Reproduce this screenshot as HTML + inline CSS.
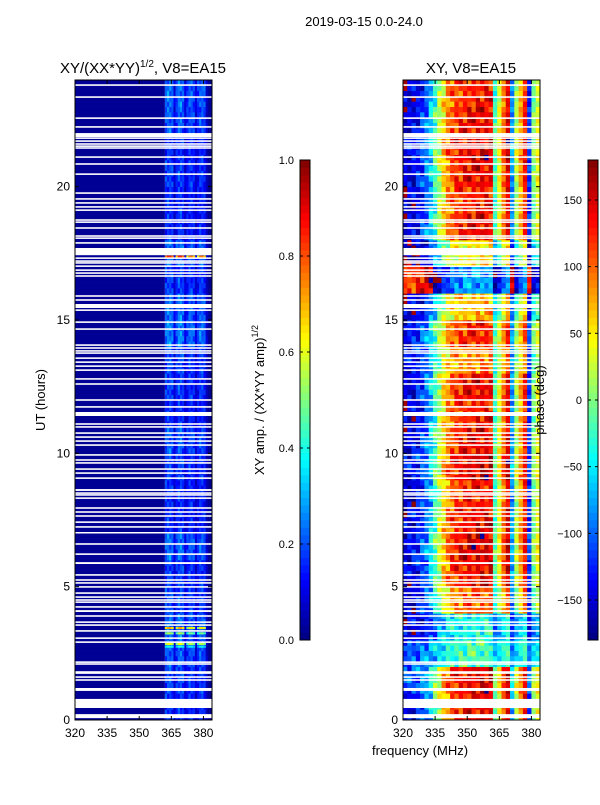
<!DOCTYPE html>
<html><head><meta charset="utf-8">
<style>
body{margin:0;background:#fff;}
svg text{font-family:"Liberation Sans","DejaVu Sans",sans-serif;fill:#000;}
</style></head>
<body>
<svg id="fig" width="600" height="800" viewBox="0 0 600 800" xmlns="http://www.w3.org/2000/svg">
<rect width="600" height="800" fill="#fff"/>
<text x="364" y="26" font-size="13" text-anchor="middle">2019-03-15 0.0-24.0</text>
<text x="143" y="73" font-size="15" text-anchor="middle">XY/(XX*YY)<tspan font-size="10" dy="-6">1/2</tspan><tspan dy="6">, V8=EA15</tspan></text>
<text x="471" y="73" font-size="15" text-anchor="middle">XY, V8=EA15</text>
<g id="left"></g>
<g id="right"></g>
<g id="axes"></g>
<text transform="translate(45,400) rotate(-90)" font-size="13" text-anchor="middle">UT (hours)</text>
<text transform="translate(264,400) rotate(-90)" font-size="13" text-anchor="middle">XY amp. / (XX*YY amp)<tspan font-size="9" dy="-6">1/2</tspan></text>
<text transform="translate(544,400) rotate(-90)" font-size="13" text-anchor="middle">phase (deg)</text>
<text x="420" y="755" font-size="13" text-anchor="middle">frequency (MHz)</text>
</svg>
<script>
// ---- data ----
const freqTicks=[320,335,350,365,380];
const hourTicks=[0,5,10,15,20];
const ampTicks=[0.0,0.2,0.4,0.6,0.8,1.0];
const phaseTicks=[-150,-100,-50,0,50,100,150];
// gaps (hours) with no data
const gapStart=[23.78,23.33,22.54,22.21,21.86,21.79,21.68,21.57,21.49,21.42,21.08,20.82,20.44,19.73,19.51,19.36,19.21,19.09,18.72,18.64,18.42,18.12,18.04,17.86,17.43,17.29,17.18,17.11,16.99,16.84,16.73,16.62,15.87,15.72,15.45,15.34,14.89,14.63,14.03,13.92,13.81,13.73,13.54,13.39,13.24,13.09,12.76,12.57,11.97,11.71,11.4,11.07,10.96,10.73,10.58,10.43,10.28,9.91,9.72,9.61,9.38,9.23,9.04,8.59,8.48,8.41,8.29,7.92,7.77,7.62,7.39,7.21,7.0,6.57,6.19,5.85,5.41,5.22,5.11,4.96,4.73,4.58,4.47,4.39,4.21,4.05,3.87,3.64,3.53,3.31,3.04,2.89,2.14,2.07,1.77,1.73,1.58,1.47,1.09,0.45,0.07];
const gapEnd=[23.84,23.39,22.6,22.27,22.01,21.85,21.74,21.63,21.55,21.48,21.14,20.88,20.5,19.79,19.57,19.42,19.27,19.15,18.78,18.7,18.48,18.18,18.1,17.92,17.7,17.35,17.24,17.17,17.05,16.9,16.79,16.68,15.93,15.78,15.6,15.4,14.95,14.69,14.09,13.98,13.87,13.79,13.6,13.45,13.3,13.15,12.82,12.63,12.03,11.77,11.55,11.13,11.02,10.79,10.64,10.49,10.34,9.97,9.78,9.67,9.44,9.29,9.1,8.66,8.54,8.47,8.35,7.98,7.83,7.68,7.45,7.27,7.05,6.63,6.25,5.92,5.47,5.28,5.17,5.02,4.79,4.64,4.53,4.45,4.27,4.12,3.93,3.7,3.59,3.37,3.1,2.95,2.2,2.13,1.83,1.79,1.64,1.53,1.2,0.79,0.22];
// amplitude: strip profile for 362-384 MHz (1 MHz columns) and per-hour level
const stripProfile=[0.9,1.0,1.0,0.9,0.4,0.8,1.0,1.0,0.9,0.4,0.7,0.9,0.9,0.8,0.4,0.7,0.9,0.9,0.8,0.3,0.1,0.1];
const ampHour=[0.18,0.2,0.22,0.24,0.2,0.19,0.24,0.17,0.17,0.19,0.22,0.17,0.19,0.2,0.26,0.24,0.19,0.24,0.17,0.17,0.19,0.17,0.22,0.24];
const baseAmp=0.02;
const hotHour=[17.38,3.45,3.25,2.85,2.75];
const hotAmp=[0.85,0.72,0.55,0.62,0.4];
// phase (deg) per 2 MHz column, 320..384
const colPhase=[-150,-145,-140,-130,-115,-95,-60,-20,20,60,90,110,120,125,130,135,135,140,140,140,140,-20,40,100,150,-80,20,80,130,-120,0,40];
const phaseShift=[0,20,-60,-90,-20,0,10,0,-10,10,0,-10,0,-20,0,-40,-160,-60,0,-10,0,10,0,-10];
const phaseScale=[1,0.9,0.3,0.4,0.9,1,1,1,1,1,1,1,1,0.8,0.9,0.8,0.6,0.8,1,1,1,1,1,1];
const texture=[0,35,-20,60,-45,10,-70,25,-5,50,-30,15,80,-60,5,-25,40,-10,-80,20];

// ---- helpers ----
const NS='http://www.w3.org/2000/svg';
function mk(tag,attrs,parent){const e=document.createElementNS(NS,tag);for(const k in attrs)e.setAttribute(k,attrs[k]);parent.appendChild(e);return e;}
function jet(v){v=Math.max(0,Math.min(1,v));const c=x=>Math.round(255*Math.max(0,Math.min(1,x)));
return `rgb(${c(1.5-Math.abs(4*v-3))},${c(1.5-Math.abs(4*v-2))},${c(1.5-Math.abs(4*v-1))})`;}
const L={x0:75,x1:212},R={x0:403,x1:540},Y0=720,Y1=80;
const fmin=320,fmax=384;
const xs=(p,f)=>p.x0+(f-fmin)/(fmax-fmin)*(p.x1-p.x0);
const ys=h=>Y0-h/24*(Y0-Y1);
const dh=0.2,nRows=120;
const left=document.getElementById('left'),right=document.getElementById('right'),axes=document.getElementById('axes');

// ---- amplitude panel ----
for(let r=0;r<nRows;r++){
  const h0=r*dh,h1=h0+dh,hi=Math.floor(h0);
  const y=ys(h1),hh=ys(h0)-ys(h1);
  let el=mk('rect',{x:xs(L,fmin),y:y,width:xs(L,362)-xs(L,fmin),height:hh+0.3,fill:jet(baseAmp)},left);
  
  
  for(let c=0;c<stripProfile.length;c++){
    const f=362+c;
    const t=texture[(r*3+c)%texture.length]/1200;
    el=mk('rect',{x:xs(L,f),y:y,width:xs(L,f+1)-xs(L,f)+0.3,height:hh+0.3,fill:jet((ampHour[hi]+t)*stripProfile[c])},left);
    
    
  }
}
for(let k=0;k<hotHour.length;k++){
  for(let c=0;c<stripProfile.length;c++){
    if(stripProfile[c]<0.6)continue;
    const el=mk('rect',{x:xs(L,362+c),y:ys(hotHour[k]+0.04),width:xs(L,363)-xs(L,362)+0.3,height:ys(0)-ys(0.08),fill:jet(hotAmp[k]*stripProfile[c])},left);
    
    
  }
}
// ---- phase panel ----
for(let r=0;r<nRows;r++){
  const h0=r*dh,h1=h0+dh,hi=Math.floor(h0);
  const y=ys(h1),hh=ys(h0)-ys(h1);
  for(let c=0;c<colPhase.length;c++){
    const f=fmin+2*c;
    const noise=c<21?texture[(r*7+c*3)%texture.length]*0.5:texture[(r+c)%texture.length]*0.3;
    let p=colPhase[c]*phaseScale[hi]+phaseShift[hi]+noise;
    while(p>180)p-=360;while(p<-180)p+=360;
    const el=mk('rect',{x:xs(R,f),y:y,width:xs(R,f+2)-xs(R,f)+0.3,height:hh+0.3,fill:jet((p+180)/360)},right);
    
    
  }
}
// ---- gaps ----
for(let i=0;i<gapStart.length;i++){
  for(const p of [L,R]){
    const el=mk('rect',{x:p.x0,y:ys(gapEnd[i]),width:p.x1-p.x0,height:Math.max(1.5,ys(gapStart[i])-ys(gapEnd[i])),fill:'#fff'},p===L?left:right);
    
    
  }
}
// ---- axes ----
for(const p of [L,R]){
  let el=mk('rect',{x:p.x0,y:Y1,width:p.x1-p.x0,height:Y0-Y1,fill:'none',stroke:'#000','stroke-width':1},axes);
  
  
  for(const f of freqTicks){
    const x=xs(p,f);
    mk('line',{x1:x,x2:x,y1:Y0,y2:Y0-4,stroke:'#000'},axes);
    mk('line',{x1:x,x2:x,y1:Y1,y2:Y1+4,stroke:'#000'},axes);
    el=mk('text',{x:x,y:Y0+17,'font-size':12,'text-anchor':'middle'},axes);
    el.textContent=f;
    
    
  }
  for(const h of hourTicks){
    const y=ys(h);
    mk('line',{x1:p.x0,x2:p.x0+4,y1:y,y2:y,stroke:'#000'},axes);
    mk('line',{x1:p.x1,x2:p.x1-4,y1:y,y2:y,stroke:'#000'},axes);
    el=mk('text',{x:p.x0-5,y:y+4,'font-size':12,'text-anchor':'end'},axes);
    el.textContent=h;
    
    
  }
}
// ---- colorbars ----
function colorbar(x,vmin,vmax,ticks,name,fmt){
  const cb0=640,cb1=160,n=64;
  for(let i=0;i<n;i++){
    const el=mk('rect',{x:x,y:cb0-(i+1)*(cb0-cb1)/n,width:10,height:(cb0-cb1)/n+0.4,fill:jet((i+0.5)/n)},axes);
    
    
  }
  const fr=mk('rect',{x:x,y:cb1,width:10,height:cb0-cb1,fill:'none',stroke:'#000'},axes);
  
  
  for(const t of ticks){
    const y=cb0-(t-vmin)/(vmax-vmin)*(cb0-cb1);
    mk('line',{x1:x,x2:x+3,y1:y,y2:y,stroke:'#000'},axes);
    mk('line',{x1:x+7,x2:x+10,y1:y,y2:y,stroke:'#000'},axes);
    const el=mk('text',{x:x-6,y:y+4,'font-size':11,'text-anchor':'end'},axes);
    el.textContent=fmt(t);
    
    
  }
}
colorbar(300,0,1,ampTicks,'amp-colorbar',t=>t.toFixed(1));
colorbar(588,-180,180,phaseTicks,'phase-colorbar',t=>t<0?'\u2212'+(-t):String(t));
</script>
</body></html>
